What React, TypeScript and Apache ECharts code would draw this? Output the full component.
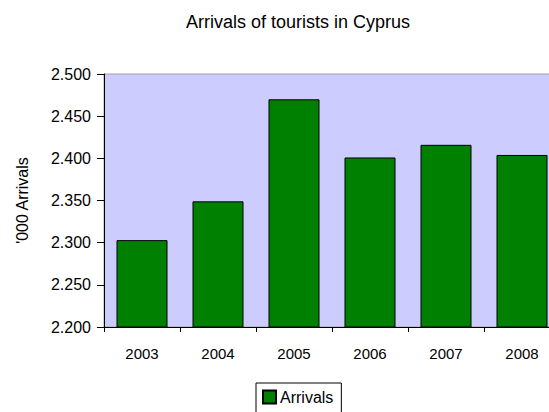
import React, { useEffect, useRef } from "react";
import * as echarts from "echarts";

const years = ["2003", "2004", "2005", "2006", "2007", "2008"];
const arrivals = [2.303, 2.349, 2.47, 2.401, 2.416, 2.404];
const seriesName = "Arrivals";
const titleText = "Arrivals of tourists in Cyprus";
const yAxisName = "'000 Arrivals";

const FONT = "'Liberation Sans', Arial, sans-serif";

export default function App() {
  const ref = useRef<HTMLDivElement>(null);
  useEffect(() => {
    if (!ref.current) return;
    const chart = echarts.init(ref.current, undefined, { renderer: "svg" });
    chart.setOption({
      animation: false,
      backgroundColor: "#ffffff",
      textStyle: { fontFamily: FONT },
      title: {
        text: titleText,
        left: 293,
        top: 8,
        textAlign: "center",
        textStyle: { fontFamily: FONT, fontSize: 18, fontWeight: "normal", color: "#000" },
      },
      grid: {
        left: 104,
        top: 74,
        width: 456,
        height: 253,
        show: true,
        backgroundColor: "#ccccff",
        borderColor: "#a0a0a0",
        borderWidth: 1,
      },
      legend: {
        data: [seriesName],
        left: 256,
        top: 383,
        itemWidth: 13,
        itemHeight: 13,
        borderColor: "#000",
        borderWidth: 1,
        borderRadius: 0,
        padding: [6, 8, 8, 6],
        itemGap: 5,
        icon: "rect",
        textStyle: { fontFamily: FONT, fontSize: 16, color: "#000", padding: [0, 0, 0, -1] },
      },
      xAxis: {
        type: "category",
        data: years,
        axisLine: { lineStyle: { color: "#000", width: 1 } },
        axisTick: { show: true, length: 5, lineStyle: { color: "#000" } },
        axisLabel: { fontFamily: FONT, fontSize: 15, color: "#000", margin: 19 },
      },
      yAxis: {
        type: "value",
        min: 2.2,
        max: 2.5,
        interval: 0.05,
        name: yAxisName,
        nameLocation: "middle",
        nameGap: 74,
        nameRotate: 90,
        nameTextStyle: { fontFamily: FONT, fontSize: 16, color: "#000" },
        axisLine: { show: true, lineStyle: { color: "#000", width: 1 } },
        axisTick: { show: true, length: 7, lineStyle: { color: "#000" } },
        splitLine: { show: false },
        axisLabel: {
          fontFamily: FONT,
          fontSize: 16,
          color: "#000",
          margin: 13,
          formatter: (v: number) => v.toFixed(3),
        },
      },
      series: [
        {
          name: seriesName,
          type: "bar",
          data: arrivals,
          barWidth: 51,
          itemStyle: { color: "#008000", borderColor: "#000", borderWidth: 1 },
        },
      ],
    });
    return () => chart.dispose();
  }, []);
  return (
    <div
      style={{
        position: "fixed",
        left: 0,
        top: 0,
        width: 549,
        height: 412,
        overflow: "hidden",
        background: "#fff",
      }}
    >
      <div ref={ref} style={{ width: 600, height: 412 }} />
    </div>
  );
}
